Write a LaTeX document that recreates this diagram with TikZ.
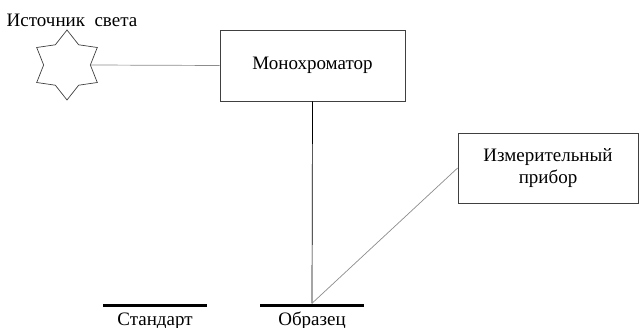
\documentclass[tikz,border=0pt]{standalone}
\usepackage{fontspec}
\setmainfont{Liberation Serif}
\usetikzlibrary{shapes.geometric,positioning}
\tikzset{>=latex}

\begin{document}
\begin{tikzpicture}[x=1pt,y=-1pt,
    txt/.style={font=\fontsize{19}{22}\selectfont},
    box/.style={draw=black!75,line width=0.8pt,inner sep=0pt,txt},
    bar/.style={fill=black,minimum width=104pt,minimum height=3pt,inner sep=0pt},
    link/.style={draw=black!45,line width=0.7pt}]
    \draw[draw=none,use as bounding box] (0,0) rectangle (639,328);
    % source
    \node[star,star points=6,star point ratio=1.5,draw=black!75,line width=0.7pt,
          minimum size=70pt,inner sep=0pt] (src) at (67,65) {};
    \node[txt,anchor=base] (srclbl) at (72,27) {Источник\ \ света};
    % boxes
    \node[box,minimum width=185pt,minimum height=71pt] (mono) at (312.5,65.5) {Монохроматор};
    \node[box,minimum width=180pt,minimum height=70pt,align=center] (meter) at (548,168)
        {Измерительный\\прибор};
    % standard and sample
    \node[bar] (std) at (155,305) {};
    \node[bar] (smp) at (312,305) {};
    \node[txt,anchor=base] (stdlbl) at (155,325) {Стандарт};
    \node[txt,anchor=base] (smplbl) at (312,325) {Образец};
    % connections
    \draw[link] (src.east) -- (mono.west);
    \draw[line width=0.7pt] (mono.south) -- (smp.north);
    \draw[link] (meter.west) -- (smp.north);
\end{tikzpicture}
\end{document}
